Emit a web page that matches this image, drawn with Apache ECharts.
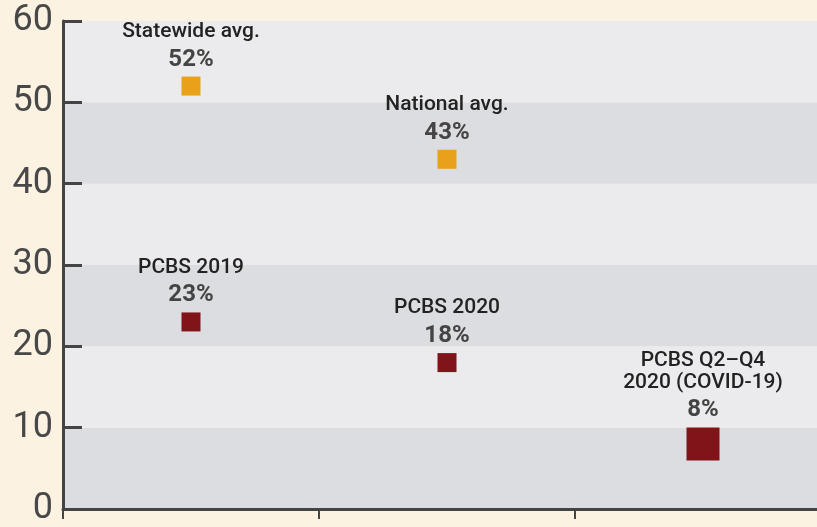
<!DOCTYPE html>
<html><head><meta charset="utf-8">
<script src="https://cdn.jsdelivr.net/npm/echarts@6/dist/echarts.min.js"></script>
<style>html,body{margin:0;padding:0;background:#fcf2e2;overflow:hidden;width:817px;height:527px;}#c{width:831px;height:527px;}</style>
</head><body><div id="c"></div>
<script>
const categories = ['2019', '2020', 'Q2–Q4 2020'];
const yTicks = [0, 10, 20, 30, 40, 50, 60];
const avgNames = ['Statewide avg.', 'National avg.'];
const avgCats = [0, 1];
const avgValues = [52, 43];
const pcbsNames = ['PCBS 2019', 'PCBS 2020', 'PCBS Q2–Q4\n2020 (COVID-19)'];
const pcbsCats = [0, 1, 2];
const pcbsValues = [23, 18, 8];

function pts(names, cats, vals) {
  return vals.map((v, i) => ({ name: names[i], value: [cats[i], v] }));
}
const labelCfg = {
  show: true, position: 'top', distance: 0, align: 'center',
  formatter: p => '{n|' + p.name.split('\n').join('}\n{n|') + '}\n{v|' + p.value[1] + '%}',
  rich: {
    n: { fontFamily: 'Roboto', fontSize: 21, fontWeight: 500, color: '#222', lineHeight: 22, align: 'center' },
    v: { fontFamily: 'Roboto', fontSize: 24, fontWeight: 'bold', color: '#444', lineHeight: 34, align: 'center' }
  }
};
const chart = echarts.init(document.getElementById('c'));
chart.setOption({
  backgroundColor: '#fcf2e2',
  animation: false,
  grid: { left: 63, right: 0, top: 21, bottom: 17, containLabel: false },
  xAxis: {
    type: 'category', data: categories, boundaryGap: true,
    axisLine: { lineStyle: { color: '#444', width: 3 } },
    axisTick: { show: true, length: 10, lineStyle: { color: '#444', width: 2 } },
    axisLabel: { show: false }, splitLine: { show: false }
  },
  yAxis: {
    type: 'value', min: yTicks[0], max: yTicks[yTicks.length - 1], interval: 10,
    axisLine: { show: true, lineStyle: { color: '#444', width: 3 } },
    axisTick: { show: true, inside: true, length: 19, lineStyle: { color: '#444', width: 3 } },
    axisLabel: { fontFamily: 'Roboto', fontSize: 36, color: '#484848', margin: 10 },
    splitLine: { show: false },
    splitArea: { show: true, areaStyle: { color: ['#dcdde0', '#ebebee'] } }
  },
  series: [
    { type: 'scatter', symbol: 'rect', symbolSize: 19, itemStyle: { color: '#e9a01a', opacity: 1 },
      data: pts(avgNames, avgCats, avgValues), label: labelCfg },
    { type: 'scatter', symbol: 'rect', symbolSize: (v, p) => p.dataIndex === 2 ? 33 : 19,
      itemStyle: { color: '#801418', opacity: 1 },
      data: pts(pcbsNames, pcbsCats, pcbsValues), label: labelCfg }
  ]
});
</script></body></html>
